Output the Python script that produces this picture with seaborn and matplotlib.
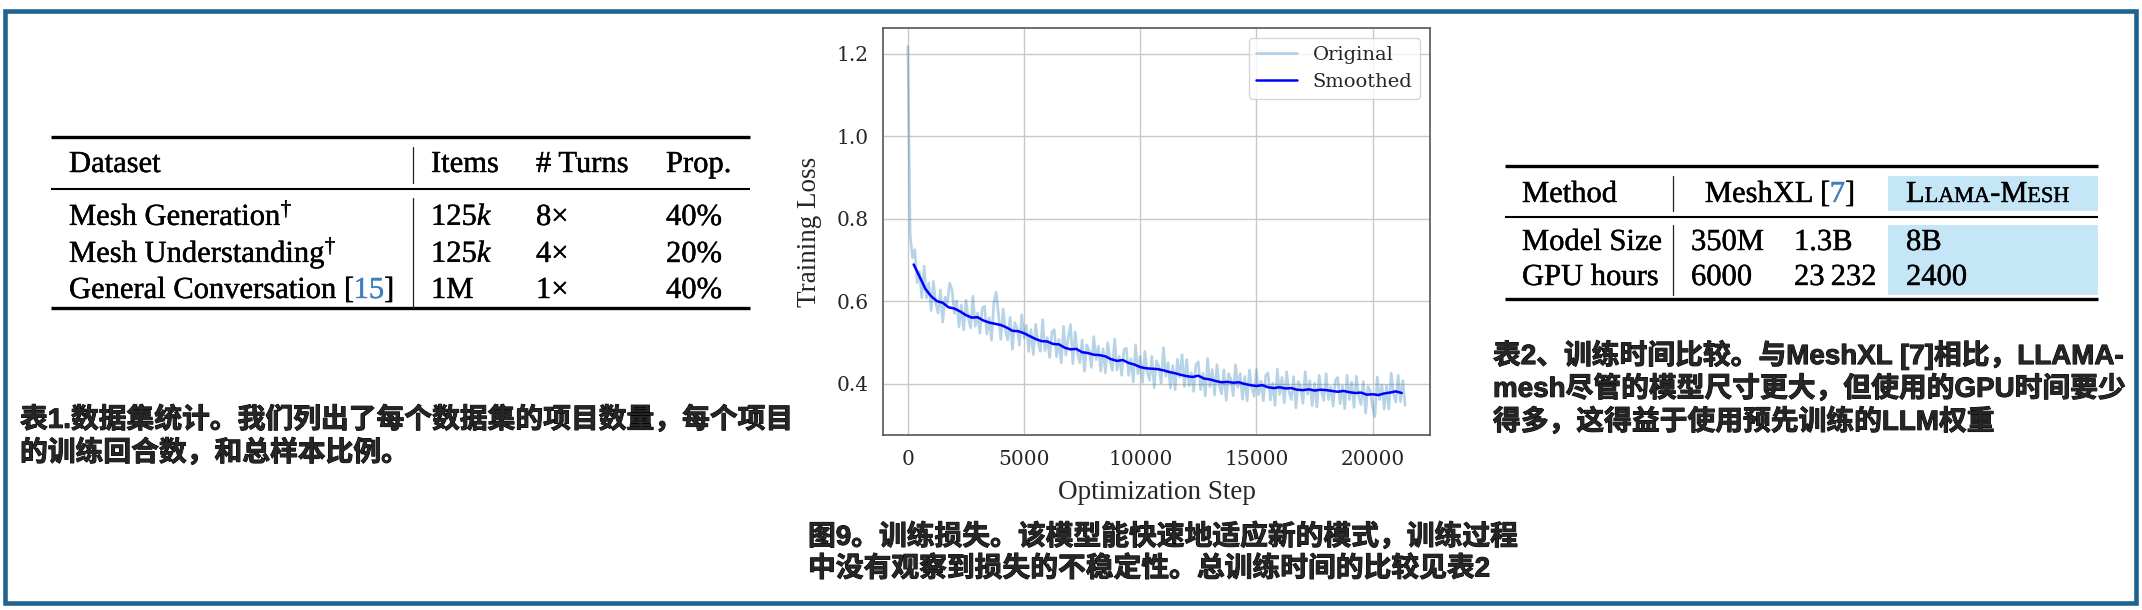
import matplotlib.pyplot as plt
import matplotlib.patheffects as pe
import numpy as np
import pandas as pd
import seaborn as sns
from matplotlib.patches import Rectangle

# ---- chart data ----
step_every = 100  # original loss logged every 100 steps
loss_original = [
    1.218, 0.760, 0.705, 0.725, 0.645, 0.672, 0.608, 0.685, 0.607, 0.644,
    0.577, 0.648, 0.594, 0.571, 0.627, 0.549, 0.610, 0.595, 0.644, 0.627,
    0.570, 0.601, 0.538, 0.591, 0.530, 0.602, 0.558, 0.535, 0.612, 0.539,
    0.571, 0.522, 0.583, 0.588, 0.520, 0.560, 0.505, 0.596, 0.622, 0.569,
    0.507, 0.581, 0.529, 0.506, 0.561, 0.483, 0.548, 0.535, 0.493, 0.567,
    0.510, 0.541, 0.478, 0.531, 0.470, 0.544, 0.501, 0.478, 0.555, 0.480,
    0.512, 0.463, 0.525, 0.531, 0.465, 0.507, 0.450, 0.539, 0.469, 0.511,
    0.543, 0.448, 0.525, 0.473, 0.450, 0.506, 0.430, 0.494, 0.481, 0.439,
    0.514, 0.458, 0.491, 0.430, 0.485, 0.426, 0.499, 0.455, 0.432, 0.508,
    0.433, 0.466, 0.420, 0.482, 0.486, 0.420, 0.460, 0.404, 0.494, 0.424,
    0.466, 0.403, 0.478, 0.429, 0.408, 0.466, 0.390, 0.455, 0.442, 0.401,
    0.487, 0.418, 0.451, 0.389, 0.444, 0.385, 0.459, 0.416, 0.470, 0.393,
    0.458, 0.395, 0.426, 0.381, 0.447, 0.453, 0.385, 0.425, 0.370, 0.461,
    0.392, 0.434, 0.372, 0.446, 0.396, 0.375, 0.433, 0.359, 0.424, 0.411,
    0.370, 0.446, 0.391, 0.424, 0.362, 0.417, 0.358, 0.433, 0.391, 0.369,
    0.434, 0.373, 0.406, 0.358, 0.420, 0.426, 0.360, 0.401, 0.347, 0.435,
    0.373, 0.415, 0.353, 0.429, 0.381, 0.361, 0.417, 0.341, 0.405, 0.392,
    0.352, 0.429, 0.374, 0.407, 0.346, 0.401, 0.343, 0.420, 0.380, 0.359,
    0.424, 0.361, 0.392, 0.345, 0.408, 0.415, 0.351, 0.394, 0.339, 0.420,
    0.361, 0.404, 0.342, 0.418, 0.370, 0.349, 0.405, 0.328, 0.393, 0.382,
    0.342, 0.320, 0.416, 0.361, 0.397, 0.338, 0.395, 0.338, 0.425, 0.375,
    0.355, 0.420, 0.356, 0.407, 0.347,
]
smooth_start, smooth_every = 250, 250
loss_smoothed = [
    0.689, 0.660, 0.630, 0.612, 0.600, 0.596, 0.585, 0.582, 0.575, 0.566,
    0.560, 0.561, 0.553, 0.548, 0.545, 0.542, 0.536, 0.528, 0.527, 0.522,
    0.515, 0.508, 0.503, 0.502, 0.496, 0.495, 0.487, 0.483, 0.484, 0.476,
    0.474, 0.470, 0.469, 0.466, 0.459, 0.455, 0.457, 0.450, 0.446, 0.440,
    0.437, 0.436, 0.435, 0.432, 0.428, 0.425, 0.421, 0.418, 0.416, 0.419,
    0.412, 0.410, 0.406, 0.403, 0.404, 0.402, 0.403, 0.399, 0.396, 0.394,
    0.396, 0.391, 0.389, 0.391, 0.388, 0.389, 0.385, 0.384, 0.386, 0.383,
    0.385, 0.384, 0.382, 0.380, 0.382, 0.379, 0.377, 0.378, 0.373, 0.374,
    0.372, 0.376, 0.378, 0.381, 0.377,
]

# ---- table data ----
t1_header = ["Dataset", "Items", "# Turns", "Prop."]
t1_names = ["Mesh Generation$^{\\dagger}$", "Mesh Understanding$^{\\dagger}$", "General Conversation ["]
t1_items = ["125$k$", "125$k$", "1M"]
t1_turns = ["8×", "4×", "1×"]
t1_prop = ["40%", "20%", "40%"]

t2_rows = ["Model Size", "GPU hours"]
t2_meshxl_a = ["350M", "6000"]
t2_meshxl_b = ["1.3B", "23\u2009232"]
t2_ours = ["8B", "2400"]

cap1 = ["表1.数据集统计。我们列出了每个数据集的项目数量，每个项目",
        "的训练回合数，和总样本比例。"]
cap2 = ["表2、训练时间比较。与MeshXL [7]相比，LLAMA-",
        "mesh尽管的模型尺寸更大，但使用的GPU时间要少",
        "得多，这得益于使用预先训练的LLM权重"]
cap3 = ["图9。训练损失。该模型能快速地适应新的模式，训练过程",
        "中没有观察到损失的不稳定性。总训练时间的比较见表2"]

sns.set_style("whitegrid")
plt.rcParams['font.family'] = ['DejaVu Serif']
plt.rcParams['mathtext.fontset'] = 'custom'
plt.rcParams['mathtext.rm'] = 'Liberation Serif'
plt.rcParams['mathtext.it'] = 'Liberation Serif:italic'
plt.rcParams['mathtext.fallback'] = 'stix'

fig = plt.figure(figsize=(21.42, 6.10), dpi=100)
bg = fig.add_axes([0, 0, 1, 1])
bg.set_xlim(0, 2142)
bg.set_ylim(610, 0)
bg.axis('off')
renderer = fig.canvas.get_renderer()

SERIF = 'Liberation Serif'
TFS = 22
LINK = '#3d7fc1'


def ttext(x, y, s, color='black', fs=TFS):
    eff = [pe.withStroke(linewidth=0.3, foreground=color)]
    return bg.text(x, y, s, fontsize=fs, color=color, family=SERIF, va='baseline',
                   path_effects=eff)


def put_parts(x, y, parts, ha='left'):
    # draw text pieces one after another (mixed colours / sizes)
    items = []
    total = 0
    for s, color, fs in parts:
        t = ttext(0, y, s, color, fs)
        w = t.get_window_extent(renderer).width
        items.append((t, w))
        total += w
    if ha == 'center':
        x = x - total / 2
    for t, w in items:
        t.set_x(x)
        x += w


def tline(x0, x1, y, lw):
    bg.plot([x0, x1], [y, y], color='black', lw=lw, solid_capstyle='butt')


def vline(x, y0, y1):
    bg.plot([x, x], [y0, y1], color='#222222', lw=0.9)


# frame
bg.add_patch(Rectangle((4.5, 10.5), 2131, 592, fill=False, edgecolor='#1e6391', lw=3.3))

# ---- table 1 ----
tline(51, 750, 137, 2.4)
tline(51, 750, 189, 1.5)
tline(51, 750, 308, 2.4)
vline(413, 147, 183)
vline(413, 198, 308)
for txt, x in zip(t1_header, [69, 431, 536, 666]):
    ttext(x, 172, txt)
for i, base in enumerate([225, 262, 298]):
    if i < 2:
        ttext(69, base, t1_names[i])
    else:
        put_parts(69, base, [(t1_names[i], 'black', TFS), ("15", LINK, TFS), ("]", 'black', TFS)])
    ttext(431, base, t1_items[i])
    ttext(536, base, t1_turns[i])
    ttext(666, base, t1_prop[i])

# ---- table 2 ----
HL = '#c4e6f7'
bg.add_patch(Rectangle((1888, 176), 210, 35, color=HL, lw=0))
bg.add_patch(Rectangle((1888, 225), 210, 70, color=HL, lw=0))
tline(1505, 2098, 166, 2.4)
tline(1505, 2098, 217, 1.5)
tline(1505, 2098, 299, 2.4)
vline(1673, 176, 211)
vline(1673, 225, 295)
ttext(1522, 202, "Method")
put_parts(1780, 202, [("MeshXL [", 'black', TFS), ("7", LINK, TFS), ("]", 'black', TFS)], ha='center')
put_parts(1906, 202, [("L", 'black', TFS), ("LAMA", 'black', 16), ("-M", 'black', TFS), ("ESH", 'black', 16)])
for i, base in enumerate([250, 285]):
    ttext(1522, base, t2_rows[i])
    ttext(1691, base, t2_meshxl_a[i])
    ttext(1794, base, t2_meshxl_b[i])
    ttext(1906, base, t2_ours[i])

# ---- captions ----
CAP = dict(fontsize=20, fontweight='bold', family=['Liberation Sans', 'Noto Sans CJK SC'], va='center',
           path_effects=[pe.withStroke(linewidth=0.7, foreground='black')])
for line, y in zip(cap1, [420, 453]):
    bg.text(20, y, line, **CAP)
for line, y in zip(cap2, [355, 389, 422]):
    bg.text(1493, y, line, **CAP)
for line, y in zip(cap3, [537, 569]):
    bg.text(808, y, line, **CAP)

# ---- training loss chart ----
ax = fig.add_axes([883 / 2142, 1 - 435 / 610, (1430 - 883) / 2142, (435 - 28) / 610])
df_orig = pd.DataFrame({'step': np.arange(len(loss_original)) * step_every, 'loss': loss_original})
df_smooth = pd.DataFrame({'step': smooth_start + np.arange(len(loss_smoothed)) * smooth_every,
                          'loss': loss_smoothed})
sns.lineplot(data=df_orig, x='step', y='loss', ax=ax, color='tab:blue', alpha=0.32, lw=1.9,
             label='Original')
sns.lineplot(data=df_smooth, x='step', y='loss', ax=ax, color='blue', lw=1.8, label='Smoothed')
ax.set_xlabel('Optimization Step', fontsize=19.5, family=SERIF, labelpad=8)
ax.set_ylabel('Training Loss', fontsize=19.5, family=SERIF, labelpad=10)
ax.tick_params(labelsize=14.5, pad=7)
ax.grid(True, color='#c8c8c8', lw=1)
for sp in ax.spines.values():
    sp.set_edgecolor('#555555')
    sp.set_linewidth(1.2)
ax.legend(loc='upper right', fontsize=14, framealpha=0.8, handlelength=2.1)

fig.savefig('out.png', dpi=100)
